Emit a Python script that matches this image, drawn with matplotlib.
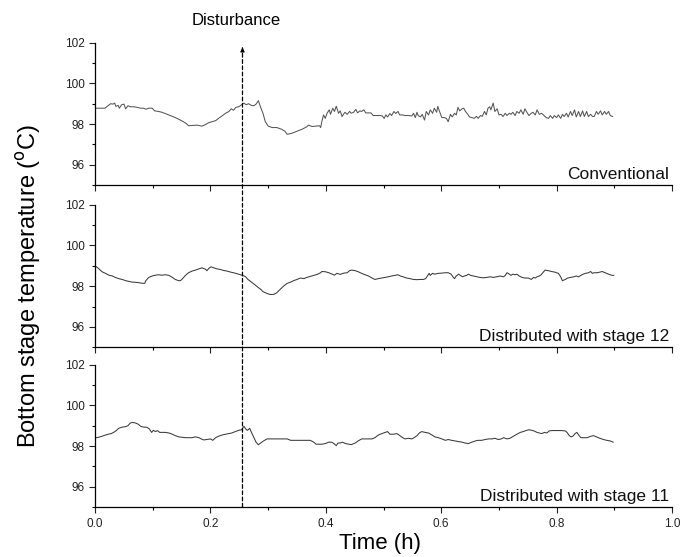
import matplotlib
matplotlib.use("Agg")
import matplotlib.pyplot as plt
from matplotlib.patches import ConnectionPatch

plt.rcParams['font.family'] = ['Liberation Sans', 'DejaVu Sans']

# time (h) and bottom stage temperature (degC)
t_conv = [0.0, 0.017, 0.021, 0.027, 0.031, 0.034, 0.036, 0.040, 0.042, 0.046,
          0.050, 0.053, 0.057, 0.061, 0.067, 0.073, 0.079, 0.084, 0.088, 0.093,
          0.099, 0.103, 0.110, 0.116, 0.125, 0.134, 0.142, 0.151, 0.158, 0.162,
          0.168, 0.177, 0.185, 0.191, 0.197, 0.203, 0.209, 0.214, 0.220, 0.226,
          0.232, 0.236, 0.240, 0.244, 0.249, 0.254, 0.258, 0.262, 0.266, 0.271,
          0.275, 0.279, 0.283, 0.287, 0.291, 0.295, 0.300, 0.307, 0.315, 0.323,
          0.329, 0.333, 0.341, 0.350, 0.359, 0.367, 0.370, 0.376, 0.383, 0.389,
          0.391, 0.393, 0.396, 0.399, 0.402, 0.406, 0.408, 0.412, 0.415, 0.418,
          0.422, 0.425, 0.428, 0.433, 0.437, 0.441, 0.444, 0.448, 0.452, 0.455,
          0.459, 0.462, 0.466, 0.469, 0.474, 0.478, 0.482, 0.488, 0.494, 0.498,
          0.501, 0.504, 0.507, 0.511, 0.514, 0.518, 0.521, 0.525, 0.528, 0.533,
          0.537, 0.543, 0.549, 0.552, 0.555, 0.558, 0.560, 0.564, 0.567, 0.571,
          0.574, 0.578, 0.581, 0.585, 0.588, 0.592, 0.594, 0.597, 0.601, 0.605,
          0.609, 0.612, 0.616, 0.619, 0.623, 0.626, 0.629, 0.632, 0.636, 0.639,
          0.642, 0.646, 0.649, 0.653, 0.657, 0.661, 0.664, 0.668, 0.671, 0.675,
          0.678, 0.681, 0.684, 0.686, 0.690, 0.693, 0.697, 0.700, 0.704, 0.707,
          0.711, 0.714, 0.718, 0.721, 0.724, 0.728, 0.731, 0.735, 0.738, 0.742,
          0.745, 0.749, 0.752, 0.756, 0.759, 0.763, 0.766, 0.770, 0.774, 0.778,
          0.782, 0.786, 0.789, 0.793, 0.796, 0.800, 0.803, 0.807, 0.810, 0.813,
          0.817, 0.820, 0.824, 0.827, 0.831, 0.834, 0.838, 0.841, 0.845, 0.848,
          0.852, 0.855, 0.859, 0.862, 0.865, 0.869, 0.872, 0.876, 0.879, 0.883,
          0.886, 0.890, 0.893, 0.897]
T_conv = [98.78, 98.78, 98.87, 99.00, 98.98, 99.03, 98.87, 98.92, 98.78, 98.95,
          98.98, 98.75, 98.90, 98.85, 98.85, 98.82, 98.78, 98.78, 98.73, 98.78,
          98.78, 98.65, 98.62, 98.58, 98.48, 98.38, 98.28, 98.15, 98.03, 97.92,
          97.93, 97.95, 97.90, 97.97, 98.07, 98.12, 98.17, 98.28, 98.40, 98.53,
          98.62, 98.75, 98.68, 98.82, 98.85, 98.95, 99.03, 98.95, 99.00, 98.92,
          98.90, 98.98, 99.15, 98.82, 98.53, 98.12, 97.90, 97.83, 97.83, 97.75,
          97.65, 97.50, 97.55, 97.65, 97.75, 97.87, 97.95, 97.88, 97.90, 97.92,
          97.83, 98.12, 98.45, 98.28, 98.53, 98.70, 98.48, 98.78, 98.62, 98.88,
          98.53, 98.65, 98.37, 98.58, 98.48, 98.62, 98.53, 98.58, 98.72, 98.55,
          98.65, 98.62, 98.70, 98.55, 98.55, 98.55, 98.42, 98.42, 98.42, 98.40,
          98.28, 98.45, 98.35, 98.52, 98.42, 98.62, 98.52, 98.62, 98.45, 98.45,
          98.42, 98.42, 98.40, 98.53, 98.32, 98.58, 98.42, 98.35, 98.48, 98.20,
          98.62, 98.45, 98.70, 98.53, 98.78, 98.58, 98.87, 98.62, 98.32, 98.32,
          98.28, 98.12, 98.48, 98.35, 98.53, 98.45, 98.82, 98.65, 98.75, 98.78,
          98.62, 98.48, 98.35, 98.32, 98.28, 98.38, 98.28, 98.42, 98.38, 98.62,
          98.45, 98.78, 98.85, 98.70, 99.03, 98.62, 98.75, 98.45, 98.48, 98.37,
          98.53, 98.42, 98.53, 98.48, 98.58, 98.42, 98.62, 98.53, 98.70, 98.48,
          98.75, 98.55, 98.42, 98.53, 98.58, 98.45, 98.70, 98.48, 98.53, 98.42,
          98.32, 98.28, 98.42, 98.28, 98.42, 98.32, 98.45, 98.28, 98.48, 98.37,
          98.53, 98.35, 98.62, 98.42, 98.70, 98.35, 98.62, 98.37, 98.65, 98.37,
          98.62, 98.37, 98.48, 98.38, 98.37, 98.62, 98.48, 98.65, 98.45, 98.62,
          98.48, 98.62, 98.42, 98.37]

t_s12 = [0.0, 0.006, 0.012, 0.018, 0.024, 0.030, 0.035, 0.041, 0.047, 0.053,
         0.058, 0.064, 0.070, 0.076, 0.082, 0.086, 0.088, 0.093, 0.099, 0.105,
         0.110, 0.116, 0.122, 0.128, 0.134, 0.139, 0.145, 0.148, 0.152, 0.157,
         0.162, 0.168, 0.174, 0.180, 0.185, 0.191, 0.194, 0.197, 0.201, 0.206,
         0.211, 0.217, 0.223, 0.229, 0.235, 0.240, 0.249, 0.256, 0.261, 0.265,
         0.271, 0.277, 0.283, 0.287, 0.291, 0.295, 0.300, 0.304, 0.310, 0.315,
         0.321, 0.327, 0.333, 0.339, 0.344, 0.350, 0.356, 0.362, 0.367, 0.373,
         0.379, 0.385, 0.391, 0.393, 0.399, 0.405, 0.411, 0.415, 0.419, 0.425,
         0.431, 0.437, 0.441, 0.444, 0.451, 0.456, 0.462, 0.468, 0.474, 0.480,
         0.485, 0.491, 0.497, 0.503, 0.508, 0.514, 0.520, 0.525, 0.529, 0.534,
         0.540, 0.546, 0.552, 0.558, 0.563, 0.569, 0.573, 0.577, 0.579, 0.581,
         0.585, 0.589, 0.595, 0.601, 0.607, 0.612, 0.617, 0.621, 0.623, 0.626,
         0.630, 0.633, 0.637, 0.640, 0.644, 0.647, 0.651, 0.656, 0.662, 0.667,
         0.673, 0.679, 0.685, 0.690, 0.696, 0.702, 0.708, 0.711, 0.714, 0.718,
         0.721, 0.724, 0.728, 0.731, 0.735, 0.740, 0.745, 0.751, 0.756, 0.760,
         0.763, 0.766, 0.770, 0.773, 0.776, 0.780, 0.786, 0.791, 0.797, 0.803,
         0.807, 0.810, 0.815, 0.819, 0.824, 0.830, 0.834, 0.838, 0.842, 0.846,
         0.850, 0.855, 0.859, 0.862, 0.865, 0.870, 0.875, 0.879, 0.884, 0.890,
         0.896, 0.899]
T_s12 = [99.00, 98.87, 98.71, 98.63, 98.54, 98.50, 98.43, 98.37, 98.33, 98.27,
         98.24, 98.20, 98.19, 98.17, 98.14, 98.14, 98.27, 98.43, 98.50, 98.54,
         98.56, 98.54, 98.56, 98.53, 98.43, 98.33, 98.27, 98.27, 98.38, 98.54,
         98.66, 98.74, 98.79, 98.85, 98.90, 98.84, 98.76, 98.87, 98.95, 98.90,
         98.85, 98.82, 98.77, 98.74, 98.69, 98.66, 98.59, 98.53, 98.46, 98.33,
         98.20, 98.07, 97.93, 97.85, 97.73, 97.68, 97.62, 97.59, 97.60, 97.68,
         97.85, 98.01, 98.14, 98.20, 98.27, 98.33, 98.40, 98.37, 98.43, 98.48,
         98.53, 98.58, 98.66, 98.72, 98.71, 98.66, 98.59, 98.54, 98.63, 98.58,
         98.64, 98.66, 98.76, 98.79, 98.76, 98.71, 98.63, 98.56, 98.50, 98.40,
         98.33, 98.37, 98.40, 98.43, 98.46, 98.50, 98.53, 98.56, 98.50, 98.46,
         98.40, 98.37, 98.33, 98.32, 98.33, 98.33, 98.37, 98.54, 98.63, 98.53,
         98.63, 98.59, 98.63, 98.64, 98.66, 98.66, 98.59, 98.43, 98.37, 98.50,
         98.59, 98.53, 98.46, 98.50, 98.53, 98.59, 98.53, 98.50, 98.46, 98.43,
         98.41, 98.43, 98.46, 98.43, 98.46, 98.50, 98.46, 98.53, 98.66, 98.59,
         98.53, 98.59, 98.56, 98.59, 98.50, 98.43, 98.40, 98.40, 98.33, 98.43,
         98.40, 98.46, 98.50, 98.56, 98.66, 98.79, 98.76, 98.72, 98.69, 98.63,
         98.46, 98.27, 98.33, 98.40, 98.43, 98.46, 98.50, 98.46, 98.53, 98.59,
         98.63, 98.66, 98.72, 98.63, 98.66, 98.66, 98.69, 98.72, 98.66, 98.59,
         98.53, 98.53]

t_s11 = [0.0, 0.006, 0.012, 0.018, 0.024, 0.028, 0.032, 0.036, 0.041, 0.047,
         0.053, 0.057, 0.061, 0.065, 0.070, 0.075, 0.079, 0.084, 0.090, 0.094,
         0.098, 0.101, 0.105, 0.108, 0.112, 0.116, 0.122, 0.128, 0.134, 0.139,
         0.145, 0.151, 0.157, 0.162, 0.168, 0.174, 0.180, 0.184, 0.188, 0.194,
         0.200, 0.204, 0.209, 0.214, 0.220, 0.226, 0.232, 0.237, 0.243, 0.249,
         0.254, 0.258, 0.261, 0.264, 0.268, 0.271, 0.275, 0.279, 0.283, 0.287,
         0.292, 0.298, 0.307, 0.315, 0.324, 0.333, 0.339, 0.347, 0.356, 0.365,
         0.373, 0.379, 0.383, 0.388, 0.393, 0.399, 0.405, 0.410, 0.414, 0.418,
         0.421, 0.425, 0.429, 0.434, 0.440, 0.444, 0.451, 0.456, 0.462, 0.468,
         0.474, 0.480, 0.485, 0.491, 0.497, 0.503, 0.507, 0.511, 0.517, 0.523,
         0.527, 0.532, 0.537, 0.543, 0.549, 0.553, 0.558, 0.562, 0.566, 0.572,
         0.578, 0.584, 0.589, 0.595, 0.601, 0.607, 0.612, 0.618, 0.624, 0.630,
         0.636, 0.641, 0.647, 0.653, 0.659, 0.664, 0.670, 0.676, 0.682, 0.688,
         0.693, 0.699, 0.704, 0.708, 0.714, 0.719, 0.725, 0.731, 0.737, 0.742,
         0.748, 0.752, 0.757, 0.761, 0.766, 0.770, 0.774, 0.779, 0.783, 0.787,
         0.791, 0.797, 0.803, 0.809, 0.815, 0.818, 0.822, 0.825, 0.828, 0.832,
         0.835, 0.839, 0.842, 0.847, 0.853, 0.859, 0.864, 0.869, 0.875, 0.881,
         0.887, 0.893, 0.898]
T_s11 = [98.40, 98.43, 98.48, 98.54, 98.59, 98.61, 98.67, 98.74, 98.87, 98.93,
         98.95, 99.00, 99.13, 99.16, 99.13, 99.07, 98.97, 98.93, 98.92, 98.84,
         98.67, 98.77, 98.71, 98.76, 98.67, 98.67, 98.67, 98.64, 98.58, 98.51,
         98.45, 98.43, 98.41, 98.41, 98.41, 98.45, 98.41, 98.35, 98.30, 98.32,
         98.35, 98.28, 98.41, 98.48, 98.54, 98.58, 98.61, 98.64, 98.71, 98.77,
         98.80, 98.97, 98.84, 98.77, 98.87, 98.67, 98.43, 98.19, 98.06, 98.15,
         98.25, 98.35, 98.35, 98.35, 98.35, 98.35, 98.28, 98.28, 98.28, 98.28,
         98.28, 98.19, 98.09, 98.09, 98.09, 98.12, 98.19, 98.19, 98.12, 98.02,
         98.15, 98.15, 98.19, 98.12, 98.09, 98.07, 98.15, 98.25, 98.35, 98.35,
         98.35, 98.35, 98.41, 98.54, 98.61, 98.67, 98.71, 98.58, 98.58, 98.61,
         98.54, 98.43, 98.35, 98.38, 98.35, 98.41, 98.51, 98.64, 98.71, 98.67,
         98.64, 98.54, 98.45, 98.41, 98.35, 98.28, 98.32, 98.28, 98.25, 98.22,
         98.19, 98.15, 98.12, 98.19, 98.25, 98.28, 98.28, 98.32, 98.35, 98.35,
         98.38, 98.32, 98.35, 98.41, 98.35, 98.38, 98.48, 98.58, 98.67, 98.71,
         98.77, 98.80, 98.77, 98.74, 98.67, 98.64, 98.61, 98.67, 98.64, 98.74,
         98.76, 98.76, 98.76, 98.76, 98.74, 98.67, 98.51, 98.45, 98.48, 98.61,
         98.67, 98.51, 98.41, 98.41, 98.41, 98.48, 98.51, 98.45, 98.38, 98.32,
         98.28, 98.25, 98.19]

series = [(t_conv, T_conv, 'Conventional', '#555555'),
          (t_s12, T_s12, 'Distributed with stage 12', '#3a3a3a'),
          (t_s11, T_s11, 'Distributed with stage 11', '#3a3a3a')]
t_disturb = 0.2555

fig = plt.figure(figsize=(6.84, 5.57), dpi=100)
left, width, height = 0.139, 0.8435, 0.256
bottoms = [0.6675, 0.3765, 0.0895]
axes = []
for k, (tt, TT, name, col) in enumerate(series):
    ax = fig.add_axes([left, bottoms[k], width, height])
    ax.plot(tt, TT, color=col, lw=0.75)
    ax.set_xlim(0, 1.0)
    ax.set_ylim(95, 102)
    ax.set_yticks([96, 98, 100, 102])
    ax.set_yticks([95, 97, 99, 101], minor=True)
    ax.set_xticks([0.0, 0.2, 0.4, 0.6, 0.8, 1.0])
    ax.set_xticks([0.1, 0.3, 0.5, 0.7, 0.9], minor=True)
    ax.spines['top'].set_visible(False)
    ax.spines['right'].set_visible(False)
    for s in ('left', 'bottom'):
        ax.spines[s].set_linewidth(0.9)
    ax.tick_params(which='major', direction='out', length=4, width=0.8,
                   labelsize=8.5, colors='#222222')
    ax.tick_params(which='minor', direction='out', length=2.5, width=0.8)
    if k < 2:
        ax.tick_params(axis='x', labelbottom=False)
    else:
        ax.xaxis.set_major_formatter(plt.FormatStrFormatter('%.1f'))
    ax.text(0.995, 0.025, name, transform=ax.transAxes, ha='right',
            va='bottom', fontsize=12.5, color='#111111')
    axes.append(ax)

# dashed disturbance marker through all three panels
con = ConnectionPatch(xyA=(t_disturb, 95), coordsA=axes[2].transData,
                      xyB=(t_disturb, 101.75), coordsB=axes[0].transData,
                      color='black', lw=0.9, linestyle=(0, (3, 2)))
fig.add_artist(con)
axes[0].annotate('', xy=(t_disturb, 101.9), xytext=(t_disturb, 101.5),
                 arrowprops=dict(arrowstyle='-|>', color='black', lw=0.8,
                                 mutation_scale=6), annotation_clip=False)
fig.text(0.345, 0.964, 'Disturbance', ha='center', va='center', fontsize=12)

fig.text(0.042, 0.486, 'Bottom stage temperature ($^{\\rm o}$C)', rotation=90,
         ha='center', va='center', fontsize=17)
fig.text(0.555, 0.025, 'Time (h)', ha='center', va='center', fontsize=16)

fig.savefig('out.png', dpi=100)
